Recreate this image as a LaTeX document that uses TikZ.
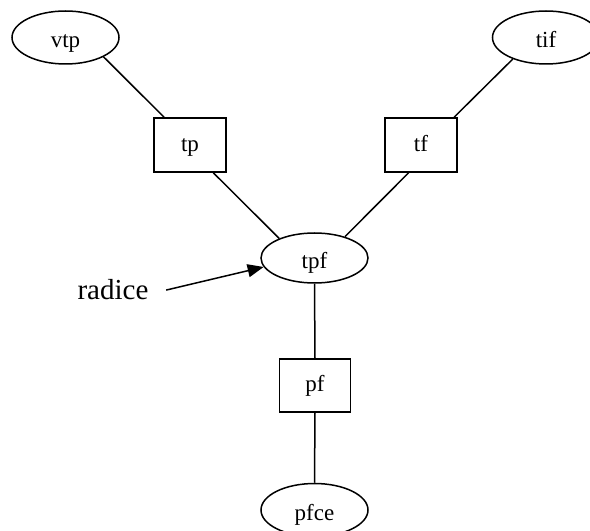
\documentclass[tikz,border=0pt]{standalone}
\usepackage{fontspec}
\setmainfont{Liberation Serif}
\usepackage{tikz}
\usetikzlibrary{shapes.geometric,arrows.meta}

\begin{document}
\begin{tikzpicture}[
  x=1pt, y=1pt, line width=1.5pt,
  every node/.style={font=\fontsize{23}{25}\selectfont},
  ovalnode/.style={ellipse, draw, minimum width=107pt, minimum height=53pt, inner sep=0pt, text height=21pt, text depth=0pt},
  boxnode/.style={rectangle, draw, minimum width=72pt, minimum height=54pt, inner sep=0pt, text height=13pt, text depth=0pt}
]
  \useasboundingbox (0,0) rectangle (590,531);
  \clip (0,0) rectangle (590,531);
  \node[ovalnode] (vtp)  at (65.5, 493.5) {vtp};
  \node[ovalnode] (tif)  at (546,  493.5) {tif};
  \node[boxnode]  (tp)   at (190,  386)   {tp};
  \node[boxnode]  (tf)   at (421,  386)   {tf};
  \node[ovalnode, minimum height=50pt] (tpf) at (314.5, 273) {tpf};
  \node[boxnode, minimum width=71pt, minimum height=53pt] (pf) at (315, 145.5) {pf};
  \node[ovalnode] (pfce) at (314.5, 21)   {pfce};
  \node[anchor=base, inner sep=0pt, font=\fontsize{29}{31}\selectfont] (radice) at (113, 231) {radice};
  \draw (vtp.-27) -- (tp.133) (tp.-50) -- (tpf.151);
  \draw (tif.-147) -- (tf.40) (tf.-114) -- (tpf.35);
  \draw (tpf.south) -- (pf.north) (pf.south) -- (pfce.north);
  \draw[-{Triangle[length=16pt, width=13pt]}] ([xshift=17pt]radice.east) -- (tpf.-170);
\end{tikzpicture}
\end{document}
